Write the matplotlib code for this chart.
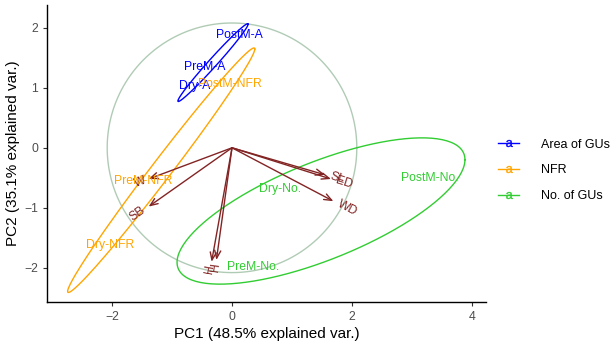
import numpy as np
import matplotlib.pyplot as plt
from matplotlib.lines import Line2D

plt.rcParams["font.family"] = ["Liberation Sans", "DejaVu Sans"]

# observation scores (PC1, PC2) and groups
obs_labels = ["PostM-A", "PreM-A", "Dry-A",
              "PostM-NFR", "PreM-NFR", "Dry-NFR",
              "PostM-No.", "Dry-No.", "PreM-No."]
obs_group = ["Area of GUs"] * 3 + ["NFR"] * 3 + ["No. of GUs"] * 3
pc1 = [0.12, -0.45, -0.62, -0.03, -1.48, -2.03, 3.30, 0.80, 0.35]
pc2 = [1.88, 1.35, 1.03, 1.06, -0.56, -1.62, -0.50, -0.68, -1.98]

groups = ["Area of GUs", "NFR", "No. of GUs"]
group_colors = ["#0000FF", "#FFA500", "#32CD32"]

# variable loadings (arrows)
var_names = ["W", "SB", "H", "H", "SL", "ED", "WD"]
var_x = [-1.39, -1.39, -0.34, -0.26, 1.55, 1.65, 1.69]
var_y = [-0.52, -0.98, -1.90, -1.87, -0.45, -0.52, -0.89]

circle_r = 2.08
ellipse_prob = 0.68
arrow_col = "#832424"

fig = plt.figure(figsize=(6.14, 3.47), dpi=100)
ax = fig.add_axes([47 / 614, 45 / 347, 439 / 614, 297 / 347])

pc1 = np.array(pc1)
pc2 = np.array(pc2)
grp = np.array(obs_group)

# correlation circle
t = np.linspace(0, 2 * np.pi, 200)
ax.plot(circle_r * np.cos(t), circle_r * np.sin(t), color="#9DBFA3",
        lw=1.0, alpha=0.8, zorder=1)

# normal-probability ellipses per group
scale = np.sqrt(-2 * np.log(1 - ellipse_prob))
circ = np.vstack([np.cos(t), np.sin(t)])
for g, c in zip(groups, group_colors):
    pts = np.vstack([pc1[grp == g], pc2[grp == g]])
    mu = pts.mean(axis=1)
    cov = np.cov(pts)
    L = np.linalg.cholesky(cov + 1e-12 * np.eye(2))
    e = mu[:, None] + scale * L @ circ
    ax.plot(e[0], e[1], color=c, lw=1.0, zorder=2)

# arrows + variable names
for name, x, y in zip(var_names, var_x, var_y):
    ax.annotate("", xy=(x, y), xytext=(0, 0),
                arrowprops=dict(arrowstyle="->,head_length=0.55,head_width=0.22",
                                color=arrow_col, lw=1.0, shrinkA=0, shrinkB=0),
                zorder=3)
    ang = np.degrees(np.arctan(y / x))
    d = np.array([x, y]) / np.hypot(x, y)
    off = 0.25 * 5.5 * len(name) + 1
    ax.annotate(name, xy=(x, y), xytext=(d[0] * off, d[1] * off),
                textcoords="offset points", rotation=ang, rotation_mode="anchor",
                ha="left" if x > 0 else "right", va="center",
                color=arrow_col, fontsize=8.8, zorder=4)

# observation labels
for lab, g, x, y in zip(obs_labels, obs_group, pc1, pc2):
    c = group_colors[groups.index(g)]
    ax.text(x, y, lab, color=c, fontsize=8.8, ha="center", va="center", zorder=5)

ax.set_xlim(-3.08, 4.23)
ax.set_ylim(-2.57, 2.38)
ax.set_aspect("equal", adjustable="box")
ax.set_xticks([-2, 0, 2, 4])
ax.set_yticks([-2, -1, 0, 1, 2])
ax.tick_params(colors="#4D4D4D", labelsize=8.8, length=3, width=0.8)
ax.tick_params(axis="both", color="#333333")
for s in ["top", "right"]:
    ax.spines[s].set_visible(False)
for s in ["left", "bottom"]:
    ax.spines[s].set_linewidth(1.0)
ax.set_xlabel("PC1 (48.5% explained var.)", fontsize=11, labelpad=3)
ax.set_ylabel("PC2 (35.1% explained var.)", fontsize=11, labelpad=3)

handles = [Line2D([0], [0], color=c, lw=1.0, marker=r"$\mathregular{a}$",
                  markersize=5, markeredgewidth=0.3)
           for c in group_colors]
fig.legend(handles, groups, loc="center left", bbox_to_anchor=(0.793, 0.509),
           frameon=False, fontsize=9.0, handlelength=1.7, handletextpad=1.7,
           labelspacing=1.1)

fig.savefig("out.png", dpi=100)
